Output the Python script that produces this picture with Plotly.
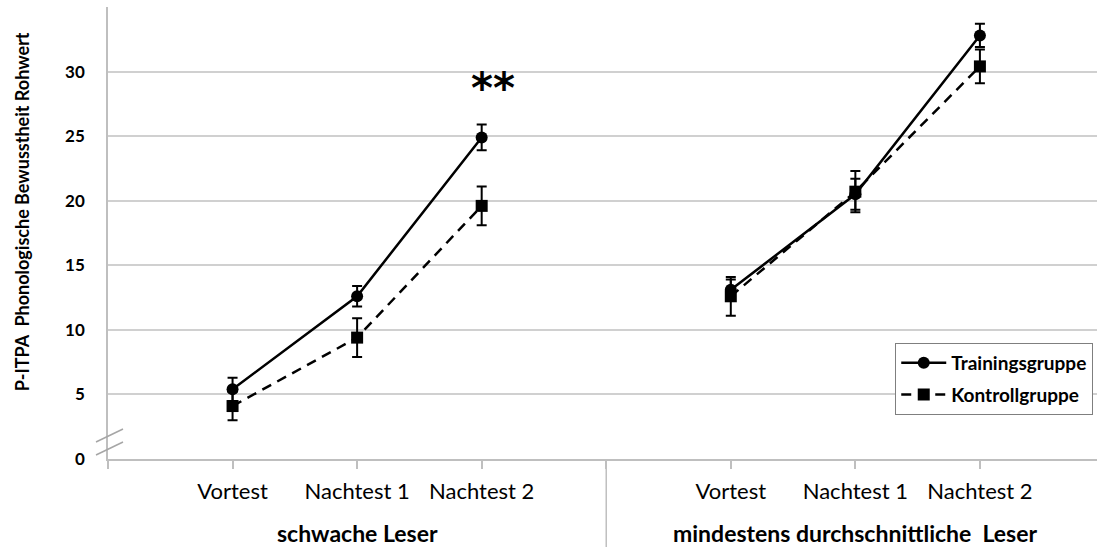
import plotly.graph_objects as go

# ---- data ----
groups = ["schwache Leser", "mindestens durchschnittliche  Leser"]
tests = ["Vortest", "Nachtest 1", "Nachtest 2"]

training_mean = [[5.4, 12.6, 24.9], [13.1, 20.5, 32.8]]
training_err = [[0.9, 0.8, 1.0], [0.8, 1.2, 0.9]]
kontroll_mean = [[4.1, 9.4, 19.6], [12.6, 20.7, 30.4]]
kontroll_err = [[1.1, 1.5, 1.5], [1.5, 1.6, 1.3]]

y_ticks = [0, 5, 10, 15, 20, 25, 30, 35]
y_ticktext = ["0", "5", "10", "15", "20", "25", "30", ""]
sig_label = "**"
sig_group, sig_test, sig_y = 0, 2, 28.7

# ---- layout helpers ----
GROUP_SPAN = len(tests) + 1
X_MAX = 7.94
FONT = "Lato"

def xpos(g, i):
    return g * GROUP_SPAN + i + 1

fig = go.Figure()

series = [
    ("Trainingsgruppe", training_mean, training_err, "circle", "solid"),
    ("Kontrollgruppe", kontroll_mean, kontroll_err, "square", "10px,7px"),
]

for name, means, errs, sym, dash in series:
    for g in range(len(groups)):
        fig.add_trace(go.Scatter(
            x=[xpos(g, i) for i in range(len(tests))],
            y=means[g],
            mode="lines+markers",
            name=name,
            legendgroup=name,
            showlegend=(g == 0),
            line=dict(color="black", width=2.5, dash=dash),
            marker=dict(symbol=sym, size=12, color="black"),
            error_y=dict(type="data", array=errs[g], visible=True,
                         color="black", thickness=2, width=5),
        ))

tickvals = [0]
ticktext = [""]
for g in range(len(groups)):
    for i, t in enumerate(tests):
        tickvals.append(xpos(g, i))
        ticktext.append(t)
    tickvals.append((g + 1) * GROUP_SPAN)
    ticktext.append("")

shapes = []
# divider between groups (below axis)
for g in range(1, len(groups)):
    xp = (g * GROUP_SPAN) / X_MAX
    shapes.append(dict(type="line", xref="paper", yref="paper",
                       x0=xp, x1=xp, y0=0, y1=-0.25,
                       line=dict(color="#bfbfbf", width=1.5)))
# axis break marks
for y0p, y1p in [(4, 17), (17, 30)]:
    shapes.append(dict(type="line", xref="paper", yref="paper",
                       xsizemode="pixel", xanchor=0, ysizemode="pixel", yanchor=0,
                       x0=-12, x1=15, y0=y0p, y1=y1p,
                       line=dict(color="#a6a6a6", width=1.5)))

annotations = [
    dict(text=sig_label, x=xpos(sig_group, sig_test) + 0.09, y=sig_y,
         xref="x", yref="y", showarrow=False,
         font=dict(family="DejaVu Sans", size=42, color="black", weight="bold")),
    dict(text="<b>P-ITPA  Phonologische Bewusstheit Rohwert</b>", textangle=-90,
         xref="paper", yref="paper", x=0, y=0.546, xshift=-86,
         xanchor="center", yanchor="middle", showarrow=False,
         font=dict(family=FONT, size=18, color="black")),
]
for g, gname in enumerate(groups):
    annotations.append(dict(
        text=f"<b>{gname}</b>", x=(g * GROUP_SPAN + GROUP_SPAN / 2) / X_MAX,
        y=0, xref="paper", yref="paper", yshift=-74,
        xanchor="center", yanchor="middle", showarrow=False,
        font=dict(family=FONT, size=23, color="black")))

fig.update_layout(
    width=1097, height=547,
    margin=dict(l=108, r=0, t=7, b=88),
    paper_bgcolor="white", plot_bgcolor="white",
    showlegend=True,
    legend=dict(x=0.796, y=0.257, xanchor="left", yanchor="top",
                bgcolor="white", bordercolor="#7f7f7f", borderwidth=1,
                font=dict(family=FONT, size=19, color="black", weight="bold"),
                tracegroupgap=4, itemwidth=45),
    xaxis=dict(range=[0, X_MAX], tickvals=tickvals, ticktext=ticktext,
               showgrid=False, zeroline=False, showline=True,
               linecolor="#bfbfbf", linewidth=1.5,
               ticks="outside", ticklen=8, tickcolor="#bfbfbf", tickwidth=1.5,
               ticklabelstandoff=4,
               tickfont=dict(family=FONT, size=22, color="black")),
    yaxis=dict(range=[0, 35], tickvals=y_ticks, ticktext=y_ticktext,
               showgrid=True, gridcolor="#d0d0d0", gridwidth=1.5,
               zeroline=False, showline=True, linecolor="#bfbfbf", linewidth=1.5,
               ticks="", ticklabelstandoff=18,
               tickfont=dict(family=FONT, size=17, color="black", weight="bold")),
    shapes=shapes,
    annotations=annotations,
)

fig.write_html("out.html",
               config={"displayModeBar": False},
               post_script="document.body.style.margin='0px';document.body.style.overflow='hidden';")
